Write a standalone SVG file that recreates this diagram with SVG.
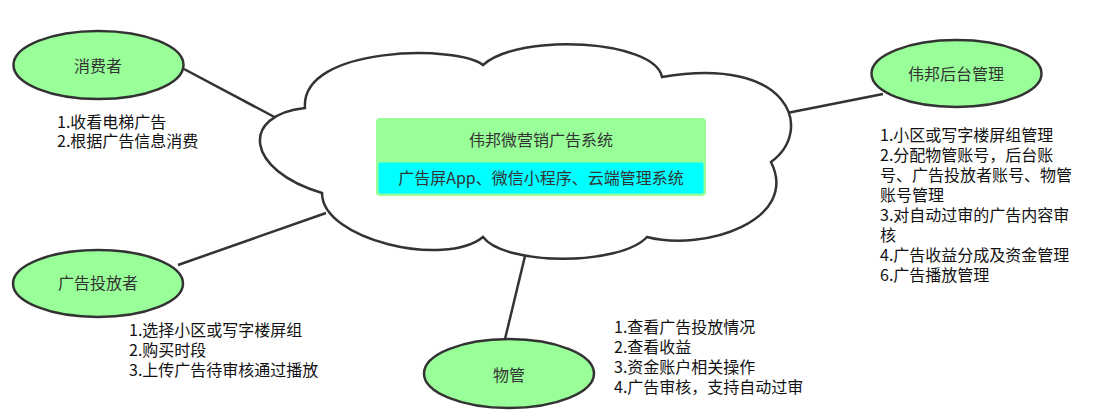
<svg xmlns="http://www.w3.org/2000/svg" width="1100" height="416" viewBox="0 0 1100 416">
  <style>
    .edge { stroke: #333; stroke-width: 2.5; fill: none; }
    .ell { fill: #99ff99; stroke: #333; stroke-width: 2.5; }
    .lbl { font-family: "Noto Sans CJK SC", "Microsoft YaHei", sans-serif; font-size: 16px; fill: #333; text-anchor: middle; }
    .note { font-family: "Noto Sans CJK SC", "Microsoft YaHei", sans-serif; font-size: 16px; fill: #111; }
  </style>
  <rect width="1100" height="416" fill="#fff"/>
  <g id="connectors">
    <line class="edge" x1="184" y1="69" x2="280" y2="120"/>
    <line class="edge" x1="178" y1="265" x2="326" y2="213"/>
    <line class="edge" x1="505" y1="339" x2="525" y2="256"/>
    <line class="edge" x1="787" y1="113" x2="883" y2="94"/>
  </g>
  <g id="system">
    <path class="edge" fill="#fff" style="fill:#fff" d="M305,108 C240,115 245,170 322,193 C322,240 445,268 483,237 C505,266 620,266 647,237 C705,252 800,220 771,162 C815,130 790,55 662,77 C655,40 520,32 483,65 C460,45 300,45 305,108 Z"/>
    <rect x="376" y="118" width="330" height="78" rx="4" fill="#99ff99"/>
    <rect x="378" y="162" width="326" height="32" rx="2" fill="#00ffff" stroke="#99ff99" stroke-width="1"/>
    <text class="lbl" x="541" y="146">伟邦微营销广告系统</text>
    <text class="lbl" x="541" y="184">广告屏App、微信小程序、云端管理系统</text>
  </g>
  <g id="consumer">
    <ellipse class="ell" cx="98.5" cy="65" rx="85" ry="34"/>
    <text class="lbl" x="98" y="72">消费者</text>
    <text class="note" x="57" y="128">1.收看电梯广告</text>
    <text class="note" x="57" y="147">2.根据广告信息消费</text>
  </g>
  <g id="advertiser">
    <ellipse class="ell" cx="98" cy="283.5" rx="85" ry="33.5"/>
    <text class="lbl" x="98" y="289">广告投放者</text>
    <text class="note" x="129" y="336">1.选择小区或写字楼屏组</text>
    <text class="note" x="129" y="356">2.购买时段</text>
    <text class="note" x="129" y="376">3.上传广告待审核通过播放</text>
  </g>
  <g id="property">
    <ellipse class="ell" cx="509" cy="373.5" rx="85" ry="34.5"/>
    <text class="lbl" x="509" y="381">物管</text>
    <text class="note" x="614" y="333">1.查看广告投放情况</text>
    <text class="note" x="614" y="353">2.查看收益</text>
    <text class="note" x="614" y="373">3.资金账户相关操作</text>
    <text class="note" x="614" y="393">4.广告审核，支持自动过审</text>
  </g>
  <g id="admin">
    <ellipse class="ell" cx="956.5" cy="73.5" rx="85" ry="33.5"/>
    <text class="lbl" x="956" y="80">伟邦后台管理</text>
    <text class="note" x="880" y="141">1.小区或写字楼屏组管理</text>
    <text class="note" x="880" y="161">2.分配物管账号，后台账</text>
    <text class="note" x="880" y="181">号、广告投放者账号、物管</text>
    <text class="note" x="880" y="201">账号管理</text>
    <text class="note" x="880" y="221">3.对自动过审的广告内容审</text>
    <text class="note" x="880" y="241">核</text>
    <text class="note" x="880" y="261">4.广告收益分成及资金管理</text>
    <text class="note" x="880" y="281">6.广告播放管理</text>
  </g>
</svg>
